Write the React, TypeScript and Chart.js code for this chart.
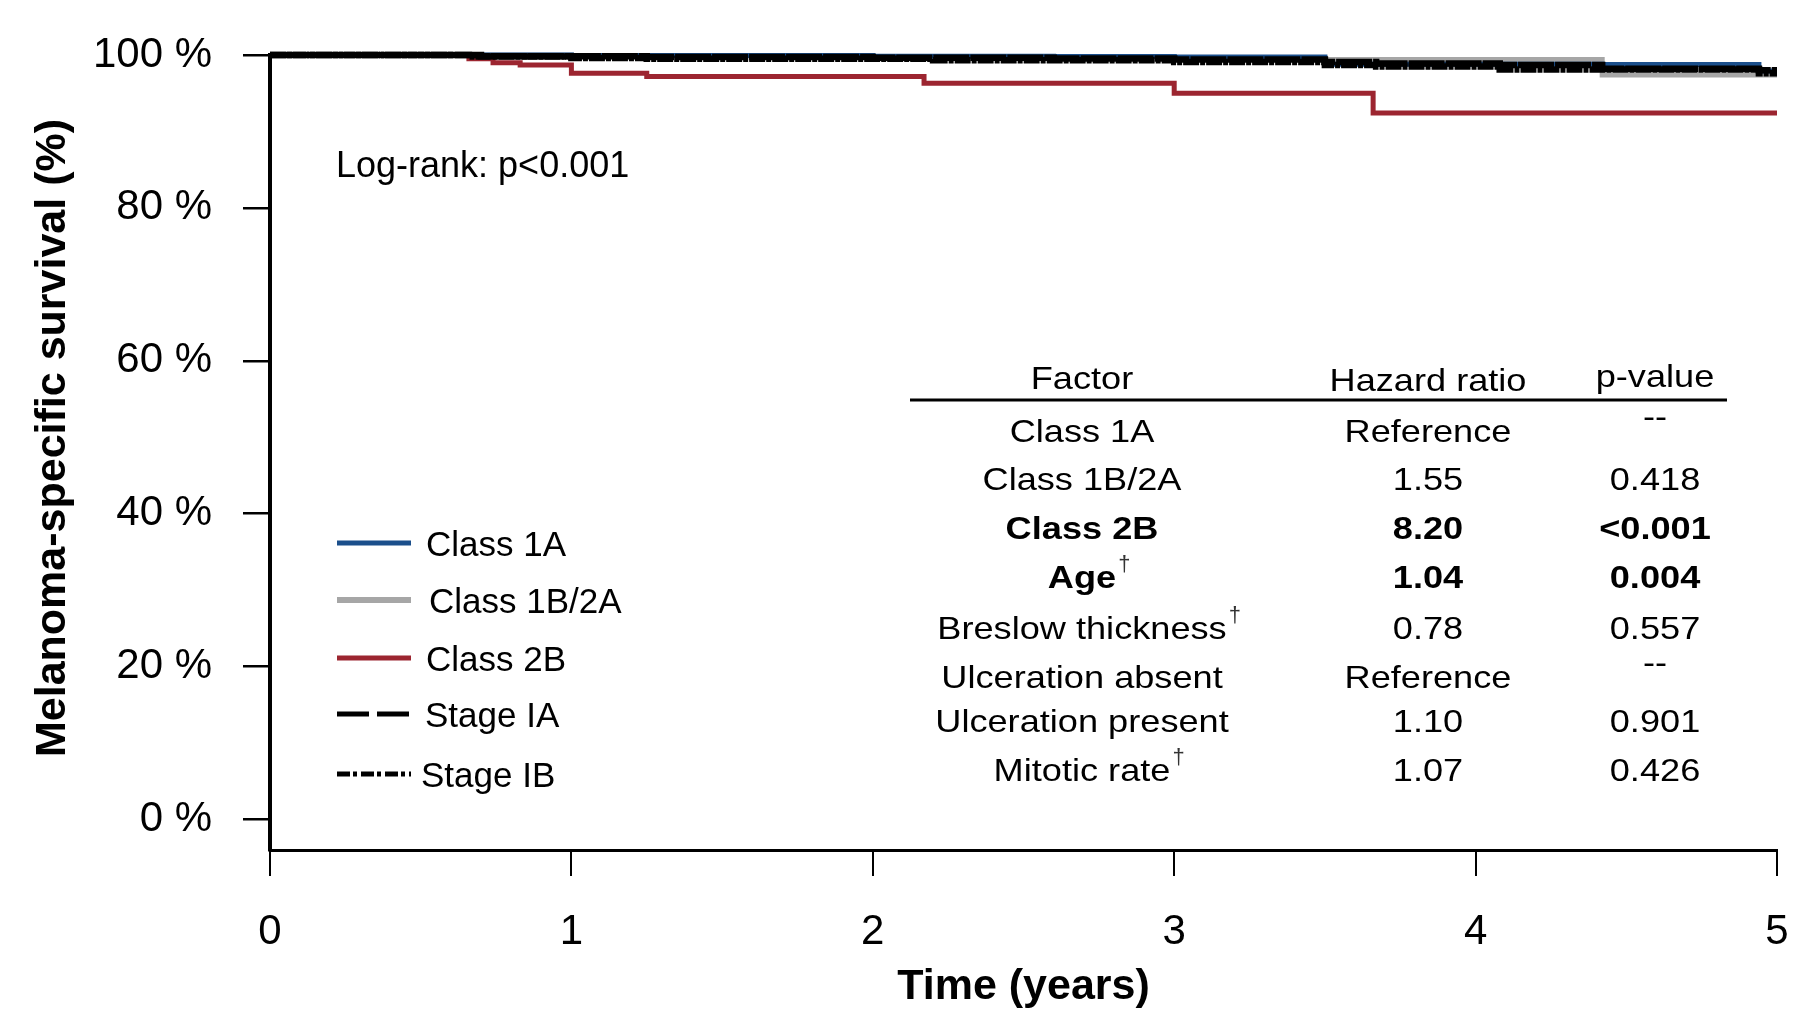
import React, { useEffect, useRef } from 'react';
import { Chart, registerables } from 'chart.js';

Chart.register(...registerables);

const FONT_FAMILY = '"Liberation Sans", Arial, Helvetica, sans-serif';

// Axis ticks
const xTickValues = [0, 1, 2, 3, 4, 5];
const yTickValues = [0, 20, 40, 60, 80, 100];

// Axis titles
const xAxisTitle = 'Time (years)';
const yAxisTitle = 'Melanoma-specific survival (%)';

// Kaplan–Meier curves: event times (years) and survival (%)
const class1ATimes = [0, 1.0, 2.0, 2.6, 3.0, 3.5, 4.42, 4.94, 5.0];
const class1ASurv = [100, 99.95, 99.85, 99.8, 99.75, 98.8, 98.75, 97.9, 97.9];

const class1B2ATimes = [0, 1.0, 2.0, 3.0, 3.5, 4.42, 5.0];
const class1B2ASurv = [100, 99.9, 99.8, 99.6, 99.4, 97.4, 97.4];

const class2BTimes = [0, 0.66, 0.74, 0.83, 1.0, 1.25, 2.17, 3.0, 3.66, 5.0];
const class2BSurv = [100, 99.5, 99.0, 98.7, 97.6, 97.2, 96.3, 95.0, 92.4, 92.4];

const stageIATimes = [0, 0.7, 1.25, 2.0, 2.6, 3.0, 3.5, 3.67, 4.08, 4.42, 4.94, 5.0];
const stageIASurv = [100, 99.85, 99.75, 99.65, 99.55, 99.4, 99.1, 98.9, 98.7, 98.2, 98.0, 98.0];

const stageIBTimes = [0, 0.66, 1.0, 1.25, 2.2, 3.0, 3.5, 3.67, 4.08, 4.94, 5.0];
const stageIBSurv = [100, 99.8, 99.6, 99.5, 99.3, 99.1, 98.7, 98.5, 98.1, 97.6, 97.6];

const seriesLabels = ['Class 1A', 'Class 1B/2A', 'Class 2B', 'Stage IA', 'Stage IB'];
const seriesColors = ['#1b4f8b', '#a6a6a6', '#9c2530', '#000000', '#000000'];

const logRankText = 'Log-rank: p<0.001';

const tableHeaders = ['Factor', 'Hazard ratio', 'p-value'];
const tableFactors = ['Class 1A', 'Class 1B/2A', 'Class 2B', 'Age', 'Breslow thickness', 'Ulceration absent', 'Ulceration present', 'Mitotic rate'];
const tableHazardRatios = ['Reference', '1.55', '8.20', '1.04', '0.78', 'Reference', '1.10', '1.07'];
const tablePValues = ['--', '0.418', '<0.001', '0.004', '0.557', '--', '0.901', '0.426'];
const tableBoldRows = [false, false, true, true, false, false, false, false];
const tableDaggerRows = [false, false, false, true, true, false, false, true];

const toPoints = (t: number[], s: number[]) => t.map((x, i) => ({ x, y: s[i] }));

// ---- layout constants for overlay drawing ----
const LEGEND_X0 = 337;
const LEGEND_X1 = 411;
const LEGEND_Y = [543, 600, 658, 714, 774];
const LEGEND_TEXT_X = [426, 429, 426, 425, 421];
const LEGEND_WIDTHS = [5, 6, 5, 5, 5];
const LEGEND_DASHES: number[][] = [[], [], [], [32, 8], [13, 3, 4, 4]];

const TABLE_COL_X = [1082, 1428, 1655];
const TABLE_HEADER_BASE = [389, 391, 387];
const TABLE_ROW_BASE = [442, 490, 539, 588, 639, 688, 732, 781];
const TABLE_FONT = 32;
const TABLE_SX = 1.13;

function drawStretched(ctx: CanvasRenderingContext2D, text: string, cx: number, base: number, font: string, sx: number) {
  ctx.save();
  ctx.font = font;
  ctx.translate(cx, base);
  ctx.scale(sx, 1);
  ctx.textAlign = 'center';
  ctx.textBaseline = 'alphabetic';
  ctx.fillText(text, 0, 0);
  const w = ctx.measureText(text).width * sx;
  ctx.restore();
  return w;
}

const overlayPlugin = {
  id: 'overlay',
  afterDraw(chart: any) {
    const ctx: CanvasRenderingContext2D = chart.ctx;
    ctx.save();
    ctx.fillStyle = '#000';

    // Y axis title
    ctx.save();
    ctx.translate(53, 438);
    ctx.rotate(-Math.PI / 2);
    ctx.font = `bold 43px ${FONT_FAMILY}`;
    ctx.textAlign = 'center';
    ctx.textBaseline = 'middle';
    ctx.fillText(yAxisTitle, 0, 0);
    ctx.restore();

    // Log-rank annotation
    ctx.font = `36px ${FONT_FAMILY}`;
    ctx.textAlign = 'left';
    ctx.textBaseline = 'alphabetic';
    ctx.fillText(logRankText, 336, 177);

    // Legend
    chart.data.datasets.forEach((ds: any, i: number) => {
      ctx.beginPath();
      ctx.setLineDash(LEGEND_DASHES[i]);
      ctx.lineCap = 'butt';
      ctx.strokeStyle = ds.borderColor;
      ctx.lineWidth = LEGEND_WIDTHS[i];
      ctx.moveTo(LEGEND_X0, LEGEND_Y[i]);
      ctx.lineTo(LEGEND_X1, LEGEND_Y[i]);
      ctx.stroke();
      ctx.setLineDash([]);
      ctx.fillStyle = '#000';
      ctx.font = `35px ${FONT_FAMILY}`;
      ctx.textAlign = 'left';
      ctx.textBaseline = 'alphabetic';
      ctx.fillText(ds.label, LEGEND_TEXT_X[i], LEGEND_Y[i] + 12.8);
    });

    // Table header
    const normal = `${TABLE_FONT}px ${FONT_FAMILY}`;
    const bold = `bold ${TABLE_FONT}px ${FONT_FAMILY}`;
    tableHeaders.forEach((h, c) => drawStretched(ctx, h, TABLE_COL_X[c], TABLE_HEADER_BASE[c], normal, TABLE_SX));
    ctx.beginPath();
    ctx.strokeStyle = '#000';
    ctx.lineWidth = 3;
    ctx.moveTo(910, 400);
    ctx.lineTo(1727, 400);
    ctx.stroke();

    // Table rows
    tableFactors.forEach((f, r) => {
      const font = tableBoldRows[r] ? bold : normal;
      const base = TABLE_ROW_BASE[r];
      const w = drawStretched(ctx, f, TABLE_COL_X[0], base, font, TABLE_SX);
      if (tableDaggerRows[r]) {
        ctx.save();
        ctx.fillStyle = '#333';
        ctx.font = `22px ${FONT_FAMILY}`;
        ctx.textAlign = 'left';
        ctx.fillText('\u2020', TABLE_COL_X[0] + w / 2 + 2, base - 17);
        ctx.restore();
      }
      drawStretched(ctx, tableHazardRatios[r], TABLE_COL_X[1], base, font, TABLE_SX);
      const p = tablePValues[r];
      drawStretched(ctx, p, TABLE_COL_X[2], p === '--' ? base - 15 : base, font, TABLE_SX);
    });

    ctx.restore();
  },
};

export default function App() {
  const ref = useRef<HTMLCanvasElement>(null);

  useEffect(() => {
    const canvas = ref.current;
    if (!canvas) return;
    const times = [class1ATimes, class1B2ATimes, class2BTimes, stageIATimes, stageIBTimes];
    const survs = [class1ASurv, class1B2ASurv, class2BSurv, stageIASurv, stageIBSurv];
    const orders = [2, 3, 4, 1, 0];
    const widths = [5, 5, 5, 6.5, 6.5];
    const dashes: number[][] = [[], [], [], [36, 1], [16, 1, 5, 1]];

    const chart = new Chart(canvas, {
      type: 'line',
      data: {
        datasets: seriesLabels.map((label, i) => ({
          label,
          data: toPoints(times[i], survs[i]),
          borderColor: seriesColors[i],
          backgroundColor: seriesColors[i],
          borderWidth: widths[i],
          borderDash: dashes[i],
          borderCapStyle: 'butt',
          stepped: true,
          pointRadius: 0,
          fill: false,
          clip: 4,
          order: orders[i],
        })),
      },
      options: {
        responsive: false,
        animation: false,
        events: [],
        layout: { padding: { left: 0, top: 55, right: 16, bottom: 0 } },
        plugins: { legend: { display: false }, tooltip: { enabled: false } },
        scales: {
          x: {
            type: 'linear',
            min: 0,
            max: 5,
            afterBuildTicks: (s: any) => { s.ticks = xTickValues.map((v) => ({ value: v })); },
            afterFit: (s: any) => { s.height = 165; s.paddingLeft = 0; s.paddingRight = 0; },
            ticks: {
              color: '#000',
              font: { family: FONT_FAMILY, size: 42 },
              padding: 31,
              maxRotation: 0,
              autoSkip: false,
              callback: (v: any) => String(v),
            },
            grid: { drawOnChartArea: false, drawTicks: true, tickLength: 26, color: '#000', lineWidth: 2 },
            border: { display: true, color: '#000', width: 3 },
            title: {
              display: true,
              text: xAxisTitle,
              color: '#000',
              font: { family: FONT_FAMILY, size: 43, weight: 'bold' },
              padding: { top: 0, bottom: 2 },
            },
          },
          y: {
            type: 'linear',
            min: -4,
            max: 100,
            afterBuildTicks: (s: any) => { s.ticks = yTickValues.map((v) => ({ value: v })); },
            afterFit: (s: any) => { s.width = 270; s.paddingTop = 0; s.paddingBottom = 0; },
            ticks: {
              color: '#000',
              font: { family: FONT_FAMILY, size: 42 },
              padding: 31,
              autoSkip: false,
              callback: (v: any) => `${v} %`,
            },
            grid: { drawOnChartArea: false, drawTicks: true, tickLength: 27, color: '#000', lineWidth: 2.5 },
            border: { display: true, color: '#000', width: 4 },
            title: { display: false, text: yAxisTitle },
          },
        },
      } as any,
      plugins: [overlayPlugin],
    } as any);

    return () => chart.destroy();
  }, []);

  return (
    <canvas
      ref={ref}
      width={1793}
      height={1015}
      style={{ position: 'fixed', left: 0, top: 0, width: 1793, height: 1015, display: 'block', background: '#fff' }}
    />
  );
}
